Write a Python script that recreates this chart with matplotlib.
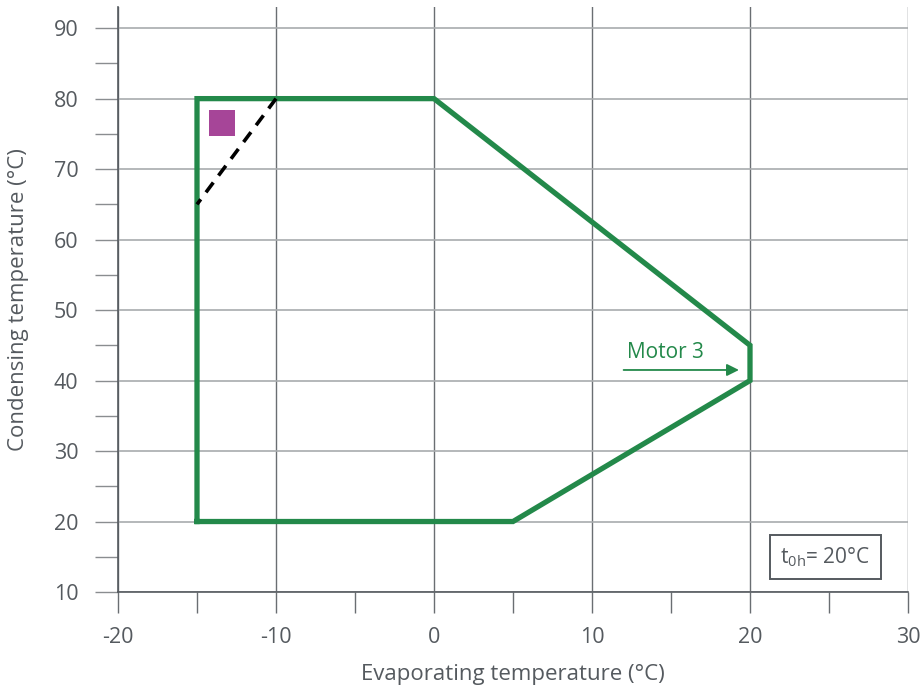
import matplotlib
matplotlib.use("Agg")
import matplotlib.pyplot as plt
from matplotlib.patches import Rectangle

plt.rcParams['font.family'] = ['Open Sans', 'DejaVu Sans']
plt.rcParams['mathtext.fontset'] = 'custom'
plt.rcParams['mathtext.rm'] = 'Open Sans'

# envelope data
env_x = [-15, -15, 0, 20, 20, 5, -15]
env_y = [20, 80, 80, 45, 40, 20, 20]
dash_x = [-10, -15]
dash_y = [80, 65]
marker_x = [-14.24, -12.6]
marker_y = [74.7, 78.4]
x_ticks = [-20, -10, 0, 10, 20, 30]
x_minor = [-15, -5, 5, 15, 25]
y_ticks = [10, 20, 30, 40, 50, 60, 70, 80, 90]
y_minor = [15, 25, 35, 45, 55, 65, 75, 85]

green = '#23894a'
purple = '#a64598'
txt = '#555a5f'

fig = plt.figure(figsize=(9.22, 6.98), dpi=100)
ax = fig.add_axes([118/922, 1-592/698, (908-118)/922, (592-7)/698])
ax.set_xlim(-20, 30)
ax.set_ylim(10, 93)

for s in ['top', 'right']:
    ax.spines[s].set_visible(False)
for s in ['left', 'bottom']:
    ax.spines[s].set_color('#555a5f')
    ax.spines[s].set_linewidth(1.2)

ax.set_xticks(x_ticks)
ax.set_xticks(x_minor, minor=True)
ax.set_yticks(y_ticks)
ax.set_yticks(y_minor, minor=True)
ax.set_xticklabels([str(v) for v in x_ticks])
ax.set_yticklabels([str(v) for v in y_ticks])

ax.tick_params(axis='x', which='both', direction='out', length=15, width=1.0,
               color='#6a6e72', pad=10, labelsize=15.5, labelcolor=txt)
ax.tick_params(axis='y', which='both', direction='out', length=16.5, width=1.0,
               color='#8a8d90', pad=12, labelsize=15.5, labelcolor=txt)

ax.grid(True, axis='x', which='major', color='#6a6e72', lw=1.0, zorder=0)
ax.grid(True, axis='y', which='major', color='#a8abae', lw=1.2, zorder=0)
ax.set_axisbelow(True)

ax.set_xlabel('Evaporating temperature (°C)', fontsize=16, color=txt, labelpad=12)
ax.set_ylabel('Condensing temperature (°C)', fontsize=16, color=txt, labelpad=18)

ax.plot(env_x, env_y, color=green, lw=3.8, solid_joinstyle='miter', zorder=3)
ax.plot(dash_x, dash_y, color='black', lw=2.6, dashes=(3.4, 2.4), zorder=3)
ax.add_patch(Rectangle((marker_x[0], marker_y[0]), marker_x[1]-marker_x[0],
                       marker_y[1]-marker_y[0], color=purple, zorder=4, lw=0))

ax.text(12.2, 44.0, 'Motor 3', color=green, fontsize=15, va='center', ha='left')
ax.annotate('', xy=(19.3, 41.5), xytext=(12.0, 41.5),
            arrowprops=dict(arrowstyle='-|>', color=green, lw=1.3,
                            mutation_scale=18, shrinkA=0, shrinkB=0))

ax.text(24.75, 15.0, r'$\mathregular{t_{0h}}$= 20°C', color=txt, fontsize=15,
        ha='center', va='center',
        bbox=dict(boxstyle='square,pad=0.5', fc='white', ec='#555a5f', lw=1.4))

fig.savefig('out.png', dpi=100)
